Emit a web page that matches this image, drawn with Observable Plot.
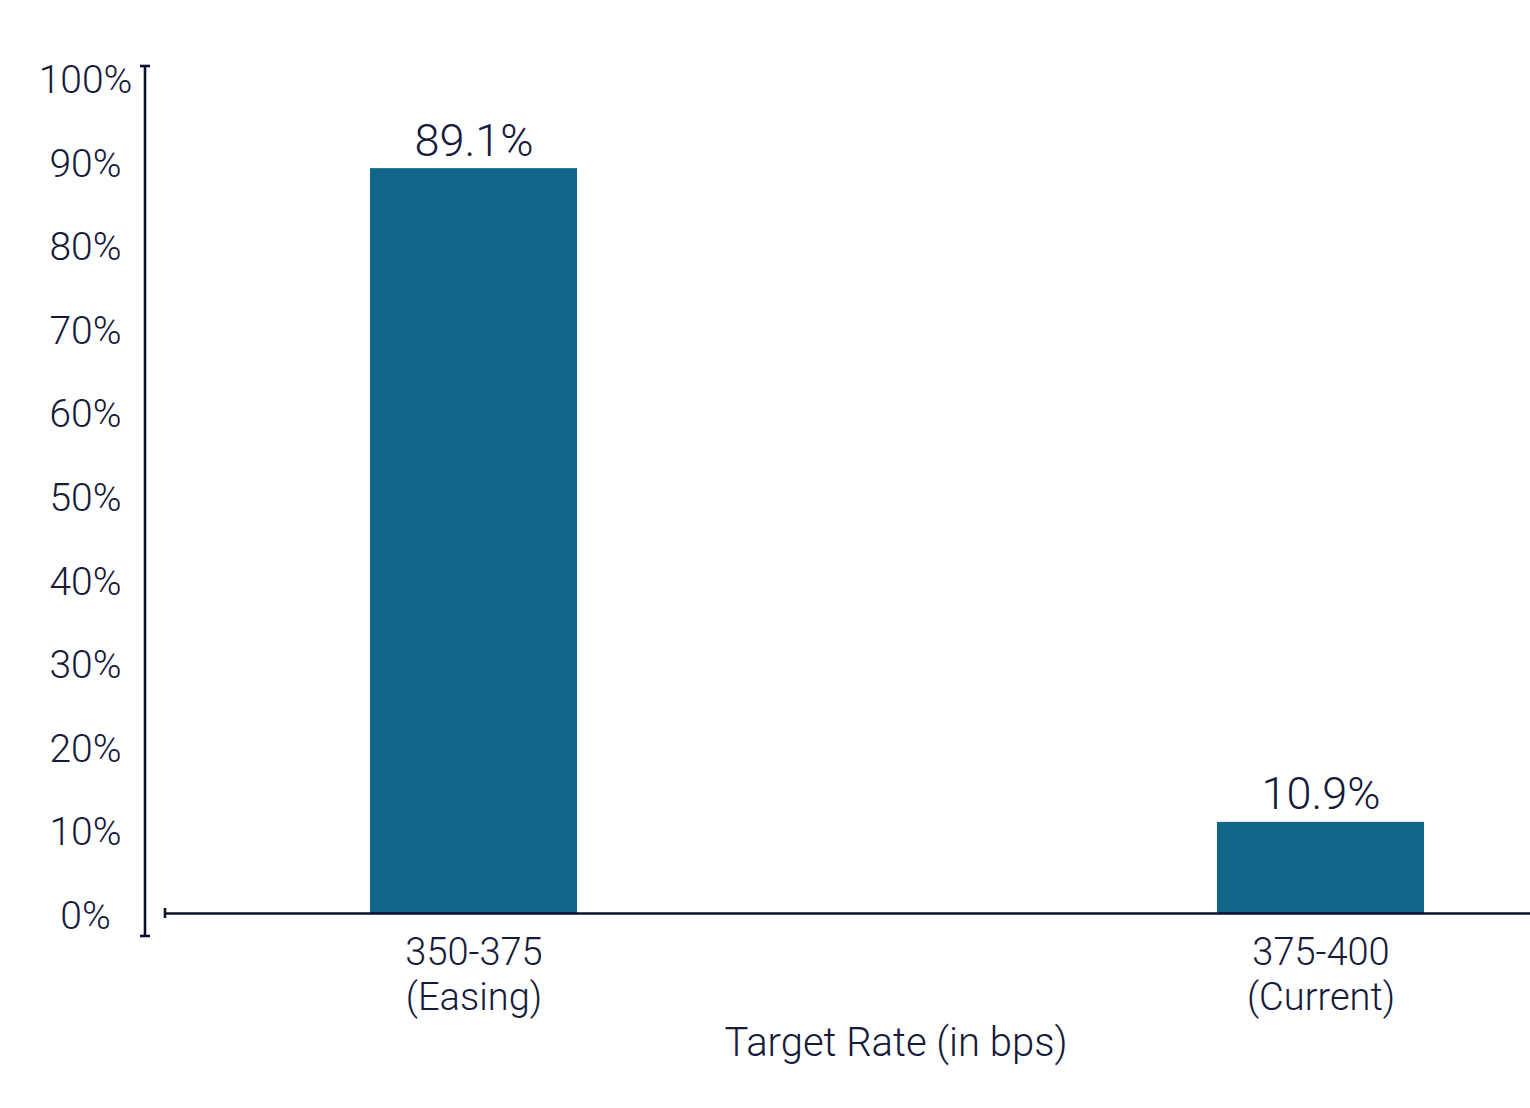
<!DOCTYPE html>
<html>
<head>
<meta charset="utf-8">
<script src="https://cdn.jsdelivr.net/npm/d3@7"></script>
<script src="https://cdn.jsdelivr.net/npm/@observablehq/plot@0.6"></script>
<style>
  html, body { margin: 0; padding: 0; background: #ffffff; }
  #chart svg { display: block; }
</style>
</head>
<body>
<div id="chart"></div>
<script>
// Data
const categories = ["350-375\n(Easing)", "375-400\n(Current)"];
const probabilities = [89.1, 10.9];
const yTicks = [0, 10, 20, 30, 40, 50, 60, 70, 80, 90, 100];
const xTitle = "Target Rate (in bps)";

const data = categories.map((c, i) => ({rate: c, prob: probabilities[i]}));

const ink = "#161a3b";
const axisInk = "#0c0f2e";
const barColor = "#10678a";
const font = "Roboto, 'Liberation Sans', sans-serif";

// decorative axis lines with end caps
function axisDecor(index, scales, values, dims) {
  const ns = "http://www.w3.org/2000/svg";
  const g = document.createElementNS(ns, "g");
  const y0 = scales.y(0), y100 = scales.y(100);
  const ax = dims.marginLeft - 20;
  const add = (x1, y1, x2, y2) => {
    const l = document.createElementNS(ns, "line");
    l.setAttribute("x1", x1); l.setAttribute("y1", y1);
    l.setAttribute("x2", x2); l.setAttribute("y2", y2);
    l.setAttribute("stroke", axisInk);
    l.setAttribute("stroke-width", 2.6);
    g.appendChild(l);
  };
  // y axis
  add(ax, y100 - 11, ax, y0 + 23);
  add(ax - 5, y100 - 11, ax + 5, y100 - 11);
  add(ax - 5, y0 + 23, ax + 5, y0 + 23);
  // x axis left cap
  add(dims.marginLeft, y0 - 5, dims.marginLeft, y0 + 5);
  return g;
}

const chart = Plot.plot({
  width: 1530,
  height: 1108,
  marginLeft: 165,
  marginRight: 0,
  marginTop: 77,
  marginBottom: 195,
  style: {fontFamily: font, color: ink, background: "#ffffff", fontWeight: 300},
  x: {domain: categories, range: [370, 1424], paddingInner: 0.756, paddingOuter: 0, label: null},
  y: {domain: [0, 100], label: null},
  marks: [
    Plot.barY(data, {x: "rate", y: "prob", fill: barColor}),
    Plot.ruleY([0], {stroke: axisInk, strokeWidth: 2.6}),
    axisDecor,
    Plot.axisY({
      ticks: yTicks,
      tickFormat: d => d + "%",
      tickSize: 0,
      tickPadding: 80,
      textAnchor: "middle",
      fontSize: 39,
      fontWeight: 300,
      dy: 3,
      fill: ink,
      label: null
    }),
    Plot.axisX({
      tickSize: 0,
      tickPadding: 20,
      fontSize: 38,
      fontWeight: 300,
      lineHeight: 1.17,
      fill: ink,
      label: null
    }),
    Plot.text(data, {
      x: "rate",
      y: "prob",
      text: d => d.prob.toFixed(1) + "%",
      lineAnchor: "bottom",
      dy: -13,
      fontSize: 45,
      fontWeight: 300,
      fill: ink
    }),
    Plot.text([xTitle], {
      frameAnchor: "bottom",
      dx: 48,
      dy: 130,
      lineAnchor: "middle",
      fontSize: 40,
      fontWeight: 300,
      fill: ink
    })
  ]
});

document.getElementById("chart").appendChild(chart);
</script>
</body>
</html>
